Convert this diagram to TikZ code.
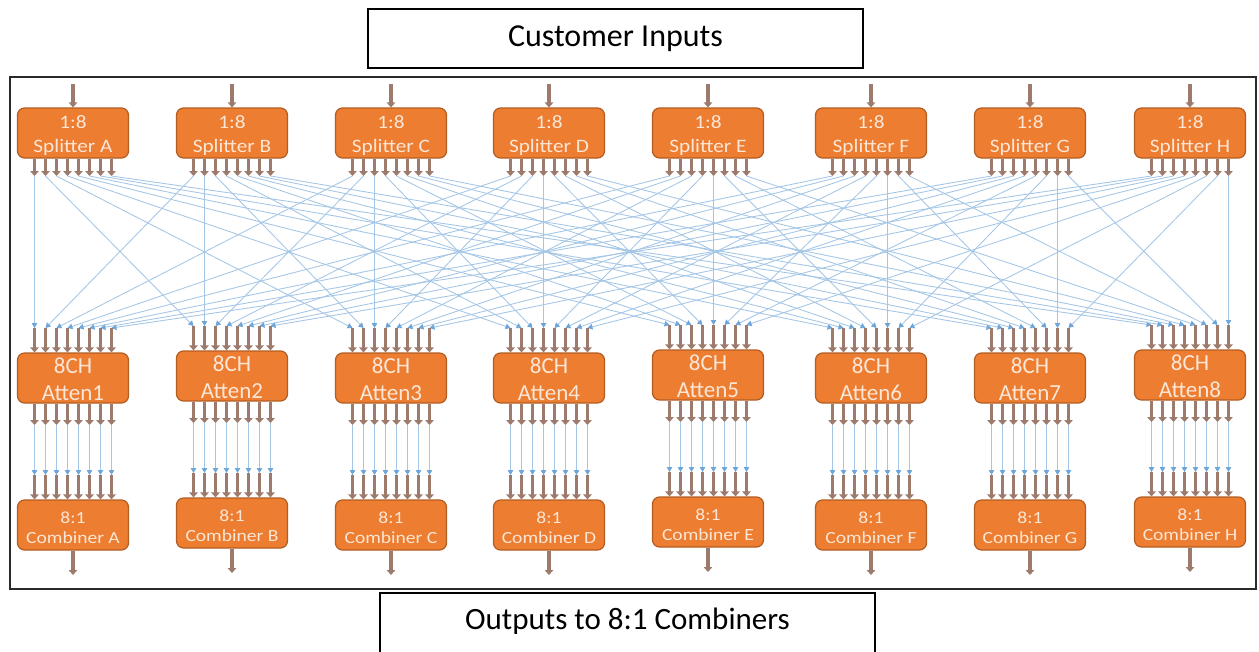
\documentclass[tikz,border=0pt]{standalone}
\usepackage{fontspec}
\setmainfont{Carlito}
\usetikzlibrary{arrows.meta}
\definecolor{orng}{HTML}{ED7D31}
\definecolor{orngdk}{HTML}{B35D22}
\definecolor{pinbrown}{HTML}{9C7A6C}
\definecolor{meshblue}{HTML}{A4C6E6}
\definecolor{tipblue}{HTML}{6FA6DA}
\definecolor{txtlight}{HTML}{FCE6D6}
\definecolor{framegray}{HTML}{2A2A2A}
\newcommand{\hstretch}[2]{\scalebox{#1}[1]{#2}}
\begin{document}
\begin{tikzpicture}[x=1pt,y=-1pt,
  blk/.style={draw=orngdk,fill=orng,line width=1.2pt,rounded corners=7pt,minimum width=111pt,minimum height=50pt,inner sep=0pt},
  btxt/.style={inner sep=0pt,text=txtlight,align=center},
  spltxt/.style={btxt,font=\fontsize{19}{24}\selectfont},
  atttxt/.style={btxt,font=\fontsize{23}{27}\selectfont},
  cmbtxt/.style={btxt,font=\fontsize{17}{20}\selectfont},
  pin/.style={draw=pinbrown,line width=3.8pt,-{Triangle[width=8.5pt,length=5pt]}},
  mesh/.style={draw=meshblue,line width=0.85pt,-{Triangle[width=5.5pt,length=5pt,color=tipblue]}},
  lbl/.style={draw=black,line width=1.2pt,minimum width=495pt,minimum height=59pt,inner sep=0pt,font=\fontsize{32}{38}\selectfont}
]
\useasboundingbox (0,0) rectangle (1259,651);
\fill[white] (0,0) rectangle (1259,651);
% title boxes and frame
\node[lbl] (cust) at (615.5,38.5) {Customer Inputs};
\draw[line width=2.2pt,draw=framegray] (10,77) rectangle (1256,589);
\node[inner sep=0pt,font=\fontsize{31}{37}\selectfont] (outl) at (627.5,621) {Outputs to 8:1 Combiners};
\draw[line width=1.2pt] (380,656) |- (875,593) -- (875,656);
% blocks and coordinates
\foreach \cx/\L/\dy [count=\i] in {73/A/0,232/B/-2,391/C/0,549/D/0,708/E/-3,871/F/0,1030/G/0,1190/H/-3}{
  \node[blk] (S\i) at (\cx,133) {};
  \node[spltxt] (S\i t) at (\cx,136) {\hstretch{1.12}{1:8}\\\hstretch{1.12}{Splitter \L}};
  \node[blk] (T\i) at (\cx,{378+(\dy)}) {};
  \node[atttxt] (T\i t) at (\cx,{379+(\dy)}) {8CH\\Atten\i};
  \node[blk] (C\i) at (\cx,{525+(\dy)}) {};
  \node[cmbtxt] (C\i t) at (\cx,{528+(\dy)}) {\hstretch{1.15}{8:1}\\\hstretch{1.15}{Combiner \L}};
  \coordinate (in\i) at (\cx,84);
  \coordinate (out\i) at (\cx,{575+(\dy)});
  \foreach \j in {1,...,8}{
    \coordinate (sp\i-\j) at ({\cx+(\j-4.5)*11},176);
    \coordinate (ai\i-\j) at ({\cx+(\j-4.5)*11},{328+(\dy)});
    \coordinate (ao\i-\j) at ({\cx+(\j-4.5)*11},{425+(\dy)});
    \coordinate (ci\i-\j) at ({\cx+(\j-4.5)*11},{475+(\dy)});
  }
}
% blue connectors
\foreach \i in {1,...,8}{
  \foreach \j in {1,...,8}{
    \draw[mesh] (sp\i-\j) -- (ai\j-\i);
    \draw[mesh] (ao\i-\j) -- (ci\i-\j);
  }
}
% brown pins
\foreach \i in {1,...,8}{
  \draw[pin] (in\i) -- (S\i.north);
  \draw[pin] (C\i.south) -- (out\i);
  \foreach \j in {1,...,8}{
    \draw[pin] (sp\i-\j |- S\i.south) -- (sp\i-\j);
    \draw[pin] (ai\i-\j) -- (ai\i-\j |- T\i.north);
    \draw[pin] (ao\i-\j |- T\i.south) -- (ao\i-\j);
    \draw[pin] (ci\i-\j) -- (ci\i-\j |- C\i.north);
  }
}
\end{tikzpicture}
\end{document}
